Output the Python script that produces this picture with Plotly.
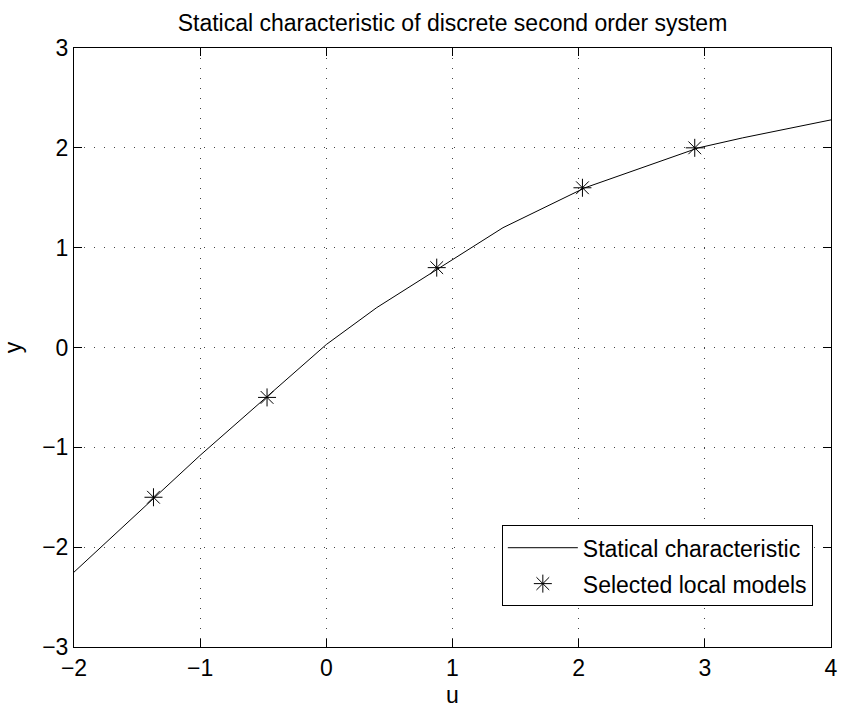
import plotly.graph_objects as go

# Statical characteristic (piecewise linear samples)
u_curve = [-2.0, -1.0, 0.0, 0.4, 1.4, 2.05, 2.95, 3.3, 4.0]
y_curve = [-2.25, -1.08, 0.03, 0.40, 1.20, 1.60, 2.00, 2.10, 2.28]

# Selected local models
u_models = [-1.37, -0.47, 0.875, 2.03, 2.92]
y_models = [-1.5, -0.5, 0.8, 1.6, 2.0]

x_ticks = [-2, -1, 0, 1, 2, 3, 4]
y_ticks = [-3, -2, -1, 0, 1, 2, 3]

FONT = "Liberation Sans, Arial, Helvetica, sans-serif"
fs = 23

fig = go.Figure()
fig.add_trace(go.Scatter(x=u_curve, y=y_curve, mode="lines",
                         line=dict(color="black", width=1),
                         name="Statical characteristic", legendgroup="a"))
fig.add_trace(go.Scatter(x=u_models, y=y_models, mode="markers",
                         marker=dict(symbol="asterisk-open", size=15, color="black",
                                     line=dict(color="black", width=1)),
                         name="Selected local models", legendgroup="b"))

axis_common = dict(showline=True, linecolor="black", linewidth=1, mirror="ticks",
                   ticks="inside", ticklen=8, tickcolor="black",
                   showgrid=True, gridcolor="#444", gridwidth=1, griddash="1px,9px",
                   zeroline=False, tickfont=dict(family=FONT, size=fs, color="black"))

fig.update_xaxes(range=[-2, 4], tickvals=x_ticks, title=dict(text="u", font=dict(family=FONT, size=fs, color="black"), standoff=7),
                 **axis_common)
fig.update_yaxes(range=[-3, 3], tickvals=y_ticks, title=dict(text="y", font=dict(family=FONT, size=fs, color="black"), standoff=14),
                 **axis_common)

fig.update_layout(
    width=847, height=713,
    margin=dict(l=74, r=9, t=48, b=62),
    paper_bgcolor="white", plot_bgcolor="white",
    title=dict(text="Statical characteristic of discrete second order system",
               x=0.5, xref="paper", xanchor="center", y=0.968, yanchor="middle",
               font=dict(family=FONT, size=fs, color="black")),
    font=dict(family=FONT, size=fs, color="black"),
    legend=dict(x=0.976, y=0.068, xanchor="right", yanchor="bottom",
                bgcolor="white", bordercolor="black", borderwidth=1,
                font=dict(family=FONT, size=fs, color="black"),
                tracegroupgap=3, itemwidth=70),
    showlegend=True,
)

fig.write_html("out.html")
